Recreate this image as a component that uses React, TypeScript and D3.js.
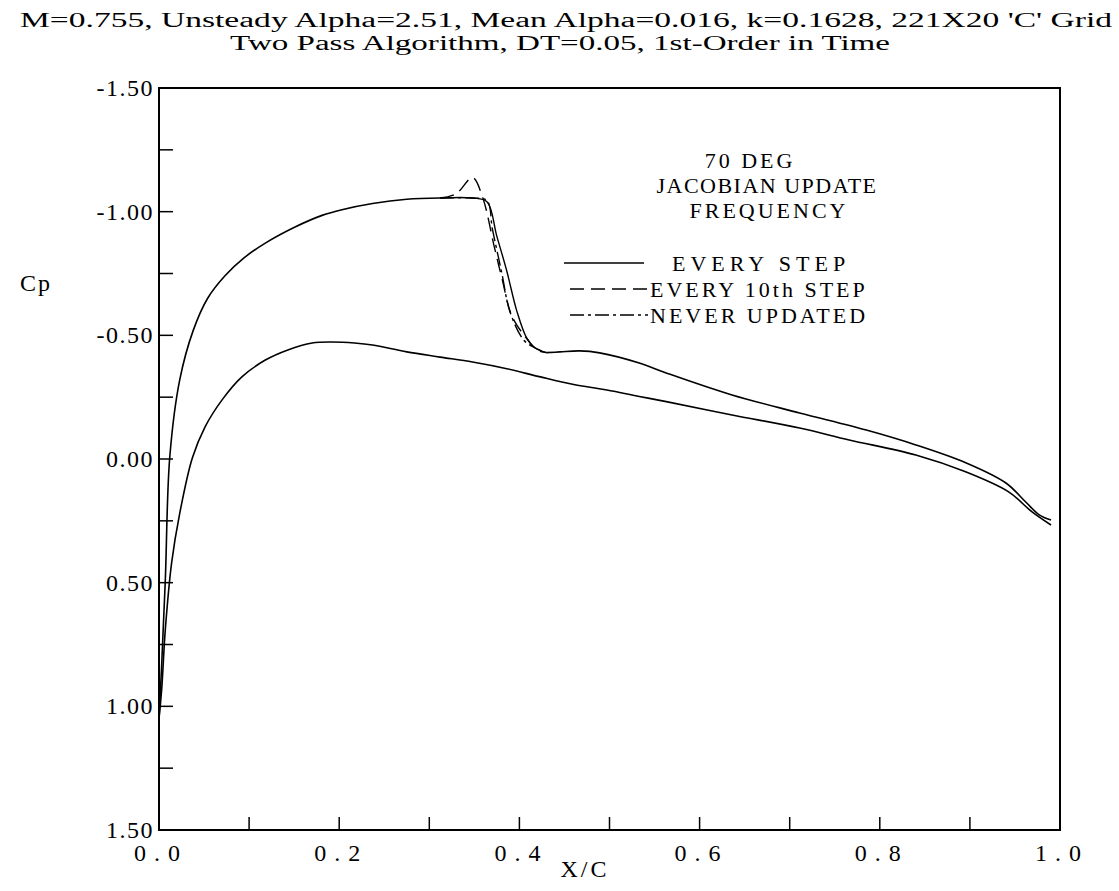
import React from "react";
import * as d3 from "d3";

const titleLine1 = "M=0.755, Unsteady Alpha=2.51, Mean Alpha=0.016, k=0.1628, 221X20 'C' Grid";
const titleLine2 = "Two Pass Algorithm, DT=0.05, 1st-Order in Time";

const xTickValues = [0.0, 0.1, 0.2, 0.3, 0.4, 0.5, 0.6, 0.7, 0.8, 0.9, 1.0];
const xTickLabels = ["0.0", "0.2", "0.4", "0.6", "0.8", "1.0"];
const xLabelValues = [0.0, 0.2, 0.4, 0.6, 0.8, 1.0];
const yTickValues = [-1.25, -1.0, -0.75, -0.5, -0.25, 0, 0.25, 0.5, 0.75, 1.0, 1.25];
const yLabelValues = [-1.5, -1.0, -0.5, 0.0, 0.5, 1.0, 1.5];
const yTickLabels = ["-1.50", "-1.00", "-0.50", "0.00", "0.50", "1.00", "1.50"];

// Upper surface, common part before the shock
const upperLeadX = [0.0, 0.003, 0.007, 0.012, 0.023, 0.038, 0.054, 0.073, 0.095, 0.118, 0.151, 0.181, 0.203, 0.237, 0.275, 0.312];
const upperLeadCp = [1.05, 0.83, 0.49, -0.01, -0.32, -0.52, -0.65, -0.74, -0.815, -0.873, -0.938, -0.985, -1.008, -1.033, -1.05, -1.055];

// Upper surface, common part after the shock
const upperTrailX = [0.43, 0.445, 0.467, 0.489, 0.533, 0.563, 0.636, 0.711, 0.785, 0.84, 0.896, 0.94, 0.962, 0.977, 0.99];
const upperTrailCp = [-0.43, -0.433, -0.437, -0.429, -0.388, -0.348, -0.259, -0.186, -0.117, -0.057, 0.016, 0.097, 0.174, 0.226, 0.247];

// Shock region per series
const shockEveryX = [0.348, 0.364, 0.375, 0.386, 0.397, 0.408, 0.417];
const shockEveryCp = [-1.055, -1.04, -0.9, -0.76, -0.6, -0.49, -0.45];
const shock10thX = [0.33, 0.348, 0.359, 0.372, 0.381, 0.392, 0.411, 0.42];
const shock10thCp = [-1.073, -1.138, -1.06, -0.86, -0.725, -0.575, -0.474, -0.44];
const shockNeverX = [0.348, 0.364, 0.37, 0.38, 0.39, 0.405, 0.417];
const shockNeverCp = [-1.055, -1.045, -0.93, -0.76, -0.59, -0.48, -0.45];

// Lower surface (all three series coincide)
const lowerX = [0.0, 0.003, 0.007, 0.014, 0.023, 0.037, 0.051, 0.07, 0.092, 0.118, 0.143, 0.17, 0.192, 0.217, 0.237, 0.275, 0.312, 0.348, 0.386, 0.422, 0.459, 0.497, 0.533, 0.563, 0.636, 0.711, 0.766, 0.84, 0.896, 0.943, 0.969, 0.99];
const lowerCp = [1.05, 0.93, 0.69, 0.42, 0.22, -0.004, -0.129, -0.239, -0.332, -0.4, -0.441, -0.469, -0.473, -0.469, -0.461, -0.433, -0.412, -0.392, -0.365, -0.333, -0.302, -0.279, -0.253, -0.232, -0.178, -0.125, -0.077, -0.016, 0.053, 0.133, 0.214, 0.267];

const seriesNames = ["EVERY STEP", "EVERY 10th STEP", "NEVER UPDATED"];
const seriesDash = ["none", "14,7", "14,4,3,4"];
const legendHeader = ["70 DEG", "JACOBIAN UPDATE", "FREQUENCY"];

type P = [number, number];
const zip = (xs: number[], ys: number[]): P[] => xs.map((x, i) => [x, ys[i]]);

export default function App() {
  const W = 1119, H = 891;
  const left = 159, right = 1060, top = 88, bottom = 830;
  const x = d3.scaleLinear().domain([0, 1]).range([left, right]);
  const y = d3.scaleLinear().domain([-1.5, 1.5]).range([top, bottom]);
  const line = d3.line<P>().x(d => x(d[0])).y(d => y(d[1])).curve(d3.curveCatmullRom.alpha(0.5));

  const shocks = [
    zip(shockEveryX, shockEveryCp),
    zip(shock10thX, shock10thCp),
    zip(shockNeverX, shockNeverCp),
  ];
  const upperLead = zip(upperLeadX, upperLeadCp);
  const upperTrail = zip(upperTrailX, upperTrailCp);
  const lower = zip(lowerX, lowerCp);

  const font = "'Liberation Serif', 'DejaVu Serif', serif";

  return (
    <svg width={W} height={H} style={{ position: "absolute", left: 0, top: 0, background: "#fff" }}>
      <rect x={0} y={0} width={W} height={H} fill="#fff" />
      <text x={20} y={27} fontFamily={font} fontSize={20} textLength={1092} lengthAdjust="spacingAndGlyphs">{titleLine1}</text>
      <text x={230} y={50} fontFamily={font} fontSize={20} textLength={660} lengthAdjust="spacingAndGlyphs">{titleLine2}</text>

      <rect x={left} y={top} width={right - left} height={bottom - top} fill="none" stroke="#000" strokeWidth={2} />

      {yTickValues.map(v => (
        <line key={"yt" + v} x1={left} x2={left + 14} y1={y(v)} y2={y(v)} stroke="#000" strokeWidth={1.5} />
      ))}
      {xTickValues.filter(v => v > 0 && v < 1).map(v => (
        <line key={"xt" + v} x1={x(v)} x2={x(v)} y1={bottom} y2={bottom - 13} stroke="#000" strokeWidth={1.5} />
      ))}

      {yLabelValues.map((v, i) => (
        <text key={"yl" + v} x={154} y={y(v) + 8} textAnchor="end" fontFamily={font} fontSize={24} letterSpacing={1.5}>{yTickLabels[i]}</text>
      ))}
      {xLabelValues.map((v, i) => (
        <text key={"xl" + v} x={x(v) + 2} y={861} textAnchor="middle" fontFamily={font} fontSize={24} letterSpacing={8}>{xTickLabels[i]}</text>
      ))}

      <text x={20} y={291} fontFamily={font} fontSize={24} letterSpacing={2}>Cp</text>
      <text x={585} y={877} textAnchor="middle" fontFamily={font} fontSize={24} letterSpacing={3}>X/C</text>

      {[lower, upperLead, upperTrail].map((pts, i) => (
        <path key={"c" + i} d={line(pts) || ""} fill="none" stroke="#000" strokeWidth={1.6} />
      ))}
      {shocks.map((pts, i) => {
        const full = [upperLead[upperLead.length - 1], ...pts, upperTrail[0]];
        return (
          <path key={"s" + i} d={line(full) || ""} fill="none" stroke="#000" strokeWidth={1.4}
            strokeDasharray={seriesDash[i] === "none" ? undefined : seriesDash[i]} />
        );
      })}

      {legendHeader.map((t, i) => (
        <text key={"lh" + i} x={[750, 767, 769][i]} y={168 + i * 25} textAnchor="middle" fontFamily={font} fontSize={22} letterSpacing={[3, 1.5, 3][i]}>{t}</text>
      ))}
      {seriesNames.map((t, i) => {
        const ly = 263 + i * 26;
        const x1 = i === 0 ? 564 : 570;
        const x2 = i === 0 ? 644 : 648;
        const tx = i === 0 ? 672 : 650;
        return (
          <g key={"lg" + i}>
            <line x1={x1} x2={x2} y1={ly} y2={ly} stroke="#000" strokeWidth={1.4}
              strokeDasharray={seriesDash[i] === "none" ? undefined : seriesDash[i]} />
            <text x={tx} y={ly + 8} fontFamily={font} fontSize={22} letterSpacing={i === 0 ? 5 : 3}>{t}</text>
          </g>
        );
      })}
    </svg>
  );
}
